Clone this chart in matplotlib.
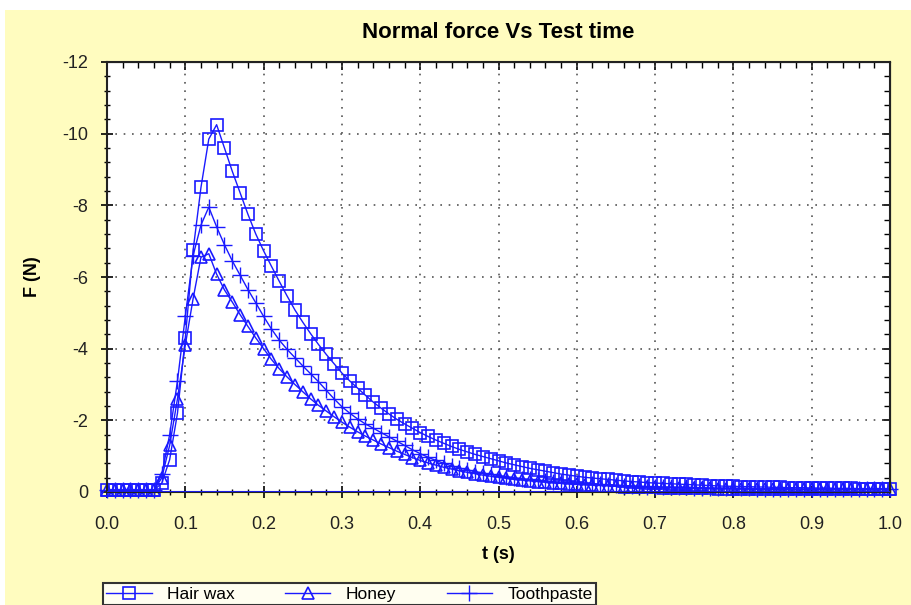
import matplotlib
matplotlib.use("Agg")
import matplotlib.pyplot as plt
from matplotlib.patches import Rectangle
from matplotlib.ticker import MultipleLocator

plt.rcParams['font.family'] = ['Liberation Sans', 'DejaVu Sans']
plt.rcParams['axes.unicode_minus'] = False

# sample times (s)
time_s = [
    0.00, 0.01, 0.02, 0.03, 0.04, 0.05, 0.06, 0.07, 0.08, 0.09,
    0.10, 0.11, 0.12, 0.13, 0.14, 0.15, 0.16, 0.17, 0.18, 0.19,
    0.20, 0.21, 0.22, 0.23, 0.24, 0.25, 0.26, 0.27, 0.28, 0.29,
    0.30, 0.31, 0.32, 0.33, 0.34, 0.35, 0.36, 0.37, 0.38, 0.39,
    0.40, 0.41, 0.42, 0.43, 0.44, 0.45, 0.46, 0.47, 0.48, 0.49,
    0.50, 0.51, 0.52, 0.53, 0.54, 0.55, 0.56, 0.57, 0.58, 0.59,
    0.60, 0.61, 0.62, 0.63, 0.64, 0.65, 0.66, 0.67, 0.68, 0.69,
    0.70, 0.71, 0.72, 0.73, 0.74, 0.75, 0.76, 0.77, 0.78, 0.79,
    0.80, 0.81, 0.82, 0.83, 0.84, 0.85, 0.86, 0.87, 0.88, 0.89,
    0.90, 0.91, 0.92, 0.93, 0.94, 0.95, 0.96, 0.97, 0.98, 0.99,
    1.00,
]

# normal force (N)
hair_wax = [
    -0.05, -0.05, -0.05, -0.05, -0.05, -0.05, -0.05, -0.25, -0.9, -2.2,
    -4.3, -6.75, -8.5, -9.85, -10.25, -9.6, -8.95, -8.35, -7.75, -7.2,
    -6.73, -6.3, -5.88, -5.47, -5.08, -4.74, -4.42, -4.12, -3.84, -3.58,
    -3.32, -3.1, -2.9, -2.7, -2.51, -2.34, -2.18, -2.03, -1.9, -1.78,
    -1.66, -1.55, -1.45, -1.36, -1.27, -1.19, -1.12, -1.05, -0.99, -0.93,
    -0.87, -0.81, -0.76, -0.71, -0.66, -0.62, -0.58, -0.54, -0.5, -0.47,
    -0.44, -0.41, -0.39, -0.37, -0.35, -0.33, -0.31, -0.29, -0.28, -0.26,
    -0.25, -0.24, -0.23, -0.22, -0.21, -0.2, -0.19, -0.18, -0.17, -0.16,
    -0.16, -0.15, -0.15, -0.14, -0.14, -0.13, -0.13, -0.12, -0.12, -0.12,
    -0.11, -0.11, -0.11, -0.1, -0.1, -0.1, -0.09, -0.09, -0.09, -0.09,
    -0.08,
]

honey = [
    -0.05, -0.05, -0.05, -0.05, -0.05, -0.05, -0.05, -0.4, -1.3, -2.6,
    -4.1, -5.4, -6.55, -6.65, -6.08, -5.64, -5.3, -4.95, -4.62, -4.3,
    -4.0, -3.7, -3.44, -3.21, -3.0, -2.8, -2.6, -2.42, -2.26, -2.1,
    -1.95, -1.81, -1.68, -1.56, -1.45, -1.34, -1.24, -1.14, -1.05, -0.96,
    -0.88, -0.81, -0.75, -0.69, -0.64, -0.59, -0.55, -0.51, -0.47, -0.44,
    -0.41, -0.38, -0.35, -0.33, -0.31, -0.29, -0.27, -0.25, -0.24, -0.22,
    -0.21, -0.2, -0.19, -0.18, -0.17, -0.16, -0.15, -0.15, -0.14, -0.13,
    -0.13, -0.12, -0.12, -0.11, -0.11, -0.1, -0.1, -0.1, -0.09, -0.09,
    -0.09, -0.08, -0.08, -0.08, -0.08, -0.08, -0.08, -0.07, -0.07, -0.07,
    -0.07, -0.07, -0.07, -0.07, -0.07, -0.07, -0.07, -0.07, -0.07, -0.07,
    -0.07,
]

toothpaste = [
    -0.05, -0.05, -0.05, -0.05, -0.05, -0.05, -0.05, -0.5, -1.6, -3.1,
    -4.9, -6.6, -7.45, -7.95, -7.4, -6.9, -6.45, -6.05, -5.65, -5.28,
    -4.9, -4.55, -4.24, -3.98, -3.75, -3.52, -3.3, -3.08, -2.84, -2.6,
    -2.38, -2.2, -2.04, -1.9, -1.78, -1.66, -1.54, -1.42, -1.3, -1.18,
    -1.07, -0.97, -0.88, -0.8, -0.73, -0.67, -0.62, -0.57, -0.53, -0.49,
    -0.46, -0.43, -0.4, -0.37, -0.35, -0.33, -0.31, -0.29, -0.27, -0.26,
    -0.24, -0.23, -0.22, -0.21, -0.2, -0.19, -0.18, -0.17, -0.16, -0.15,
    -0.15, -0.14, -0.14, -0.13, -0.13, -0.12, -0.12, -0.11, -0.11, -0.11,
    -0.1, -0.1, -0.1, -0.09, -0.09, -0.09, -0.09, -0.09, -0.08, -0.08,
    -0.08, -0.08, -0.08, -0.08, -0.08, -0.08, -0.08, -0.08, -0.08, -0.08,
    -0.08,
]

series_names = ["Hair wax", "Honey", "Toothpaste"]
series_markers = ["s", "^", "+"]

blue = "#1a1aff"
fig = plt.figure(figsize=(9.11, 6.05), dpi=100, facecolor="white")

# pale yellow panel behind everything (thin white margin top/left)
fig.patches.append(Rectangle((5 / 911, 0), 1, 1 - 10 / 605, transform=fig.transFigure,
                             facecolor="#fffcbf", edgecolor="none", zorder=-10))

ax = fig.add_axes([107 / 911, 1 - 492 / 605, 783 / 911, 430 / 605])
ax.set_facecolor("white")

for name, mk, vals in zip(series_names, series_markers, [hair_wax, honey, toothpaste]):
    if mk == "+":
        ax.plot(time_s, vals, color=blue, lw=1, marker=mk, ms=11, mew=1, label=name, clip_on=False)
    else:
        ax.plot(time_s, vals, color=blue, lw=1, marker=mk, ms=8, mfc="none", mec=blue, mew=1.2,
                label=name, clip_on=False)

ax.axhline(0, color=blue, lw=2, zorder=3)

ax.set_xlim(0, 1.0)
ax.set_ylim(0, -12)
ax.xaxis.set_major_locator(MultipleLocator(0.1))
ax.xaxis.set_minor_locator(MultipleLocator(0.02))
ax.yaxis.set_major_locator(MultipleLocator(2))
ax.yaxis.set_minor_locator(MultipleLocator(0.4))
ax.xaxis.set_major_formatter(matplotlib.ticker.FormatStrFormatter("%.1f"))

ax.grid(True, which="major", color="#555555", linestyle=(0, (1, 4)), lw=1.2)
ax.tick_params(which="major", direction="inout", length=9, width=1.2, labelsize=13,
               colors="black", labelcolor="#222222")
ax.tick_params(which="minor", direction="inout", length=5, width=1)
ax.tick_params(axis="x", pad=13)
ax.tick_params(axis="y", pad=9)

# inward ticks on top and right
top = ax.secondary_xaxis("top")
top.xaxis.set_major_locator(MultipleLocator(0.1))
top.xaxis.set_minor_locator(MultipleLocator(0.02))
top.tick_params(which="major", direction="in", length=6, width=1.2, labeltop=False)
top.tick_params(which="minor", direction="in", length=4, width=1)
right = ax.secondary_yaxis("right")
right.yaxis.set_major_locator(MultipleLocator(2))
right.yaxis.set_minor_locator(MultipleLocator(0.4))
right.tick_params(which="major", direction="in", length=6, width=1.2, labelright=False)
right.tick_params(which="minor", direction="in", length=4, width=1)

for sp in ax.spines.values():
    sp.set_linewidth(1.5)
    sp.set_color("#222222")

ax.set_title("Normal force Vs Test time", fontsize=16, fontweight="bold", pad=17)
ax.set_xlabel("t (s)", fontsize=13, fontweight="bold", labelpad=9)
ax.set_ylabel("F (N)", fontsize=13, fontweight="bold", labelpad=15)

leg = fig.legend(loc="upper left", bbox_to_anchor=(103 / 911, 1 - 583 / 605), ncol=3,
                 fontsize=12.5, frameon=True, fancybox=False, framealpha=1,
                 edgecolor="#333333", facecolor="#fffef0", handlelength=2.6,
                 columnspacing=2.9, borderpad=0.2, handletextpad=0.9, borderaxespad=0)
leg.get_frame().set_linewidth(1.5)

fig.savefig("out.png", dpi=100, facecolor=fig.get_facecolor())
